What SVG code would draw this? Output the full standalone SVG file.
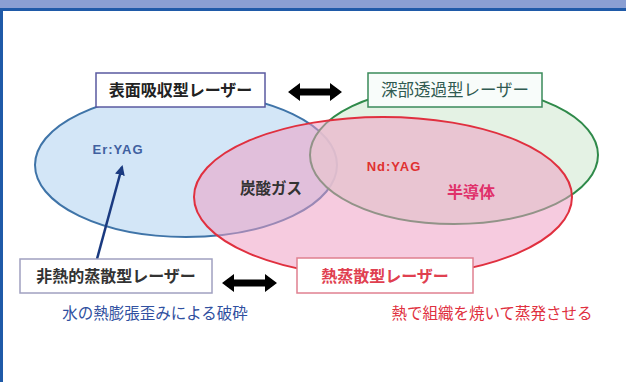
<svg xmlns="http://www.w3.org/2000/svg" width="626" height="382" viewBox="0 0 626 382">
<defs>
<style>
.jp{font-family:"Noto Sans CJK JP","Noto Sans",sans-serif;}
.lat{font-family:"Liberation Sans","DejaVu Sans",sans-serif;}
.box{fill:#ffffff;stroke-width:1.5;}
.dbl{fill:#000000;}
</style>
<marker id="ah" viewBox="0 0 10 10" refX="8" refY="5" markerWidth="4" markerHeight="4" orient="auto">
<path d="M0,0 L10,5 L0,10 z" fill="#1a3a80"/>
</marker>
</defs>
<rect x="0" y="0" width="626" height="382" fill="#ffffff"/>
<rect x="0" y="0" width="626" height="8" fill="#8a9fd3"/>
<rect x="0" y="8" width="626" height="3" fill="#1f5aa8"/>
<rect x="0" y="8" width="3" height="374" fill="#1f5aa8"/>

<g id="ellipse-blue">
<ellipse cx="186" cy="165" rx="151" ry="72" fill="#d3e6f7" stroke="#3f74a8" stroke-width="2"/>
</g>
<g id="ellipse-green">
<ellipse cx="454" cy="155" rx="144" ry="69" fill="#dff0df" fill-opacity="0.85" stroke="#2f8a4a" stroke-width="2"/>
</g>
<g id="ellipse-red">
<ellipse cx="383" cy="197" rx="189" ry="80" fill="#ee9cc2" fill-opacity="0.52" stroke="#e0303f" stroke-width="2"/>
</g>

<g id="connectors">
<line x1="97" y1="259" x2="122" y2="167" stroke="#1a3a80" stroke-width="2.5" marker-end="url(#ah)"/>
<path class="dbl" d="M288,92 L300,83 L300,88.5 L330,88.5 L330,83 L342,92 L330,101 L330,95.5 L300,95.5 L300,101 Z"/>
<path class="dbl" d="M222,283 L234,274 L234,279.5 L265,279.5 L265,274 L277,283 L265,292 L265,286.5 L234,286.5 L234,292 Z"/>
</g>

<g id="label-surface">
<rect class="box" x="96" y="73" width="169" height="34" stroke="#5a5aa0"/>
<text class="jp" x="180.5" y="96" font-size="16" font-weight="bold" fill="#222222" text-anchor="middle">表面吸収型レーザー</text>
</g>
<g id="label-deep">
<rect class="box" x="368" y="73" width="174" height="34" stroke="#3a8a5a" style="fill:#f8fcfa"/>
<text class="jp" x="455" y="96" font-size="16.5" fill="#2f5a50" text-anchor="middle">深部透過型レーザー</text>
</g>
<g id="label-nonthermal">
<rect class="box" x="20" y="259" width="192" height="34" stroke="#a0a0c0"/>
<text class="jp" x="116" y="282" font-size="16" font-weight="bold" fill="#333333" text-anchor="middle">非熱的蒸散型レーザー</text>
</g>
<g id="label-thermal">
<rect class="box" x="297" y="258" width="176" height="35" stroke="#e08090"/>
<text class="jp" x="385" y="282" font-size="16" font-weight="bold" fill="#e04050" text-anchor="middle">熱蒸散型レーザー</text>
</g>

<g id="item-eryag">
<text class="lat" x="118" y="154" font-size="13" font-weight="bold" fill="#4060a0" text-anchor="middle" letter-spacing="1">Er:YAG</text>
</g>
<g id="item-co2">
<text class="jp" x="271" y="194" font-size="15.5" font-weight="bold" fill="#333333" text-anchor="middle">炭酸ガス</text>
</g>
<g id="item-ndyag">
<text class="lat" x="394" y="171" font-size="13" font-weight="bold" fill="#e03030" text-anchor="middle" letter-spacing="1">Nd:YAG</text>
</g>
<g id="item-diode">
<text class="jp" x="471" y="198" font-size="16" font-weight="bold" fill="#e0306a" text-anchor="middle">半導体</text>
</g>

<g id="desc-nonthermal">
<text class="jp" x="155" y="319" font-size="15.5" fill="#3050a0" text-anchor="middle">水の熱膨張歪みによる破砕</text>
</g>
<g id="desc-thermal">
<text class="jp" x="492" y="319" font-size="15.5" fill="#e03040" text-anchor="middle">熱で組織を焼いて蒸発させる</text>
</g>
</svg>
